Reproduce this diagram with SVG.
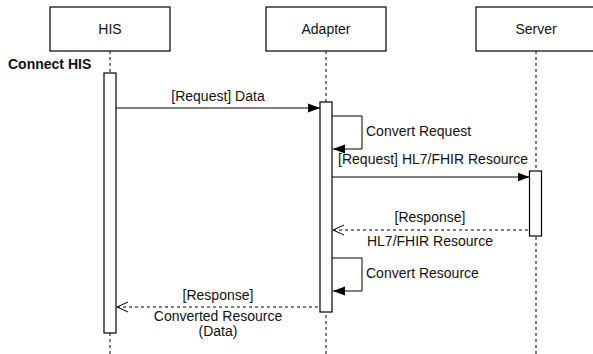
<svg xmlns="http://www.w3.org/2000/svg" width="593" height="354" viewBox="0 0 593 354">
  <defs>
    <marker id="solid" markerWidth="13" markerHeight="10" refX="12" refY="5" orient="auto" markerUnits="userSpaceOnUse">
      <path d="M0,0.5 L12,5 L0,9.5 Z" fill="#000"/>
    </marker>
    <marker id="open" markerWidth="14" markerHeight="12" refX="1" refY="6" orient="auto" markerUnits="userSpaceOnUse">
      <path d="M12,1 L1,6 L12,11" fill="none" stroke="#000" stroke-width="1"/>
    </marker>
  </defs>
  <style>
    text { font-family: "Liberation Sans", Arial, Helvetica, sans-serif; font-size: 14px; fill: #111; }
    .mid { text-anchor: middle; }
    .head { fill: #fff; stroke: #000; stroke-width: 1.2; }
    .life { stroke: #000; stroke-width: 1; stroke-dasharray: 3 3; fill: none; }
    .act { fill: #fff; stroke: #000; stroke-width: 1.2; }
    .msg { stroke: #000; stroke-width: 1; fill: none; }
    .ret { stroke: #000; stroke-width: 1; fill: none; stroke-dasharray: 3 3; }
  </style>

  <rect width="593" height="354" fill="#fff"/>

  <!-- lifelines -->
  <g id="his">
    <line class="life" x1="110" y1="51" x2="110" y2="354"/>
    <rect class="head" x="50" y="7" width="120" height="44"/>
    <text class="mid" x="110" y="34">HIS</text>
    <rect class="act" x="104" y="73" width="12" height="260"/>
  </g>
  <g id="adapter">
    <line class="life" x1="326" y1="51" x2="326" y2="354"/>
    <rect class="head" x="266" y="7" width="120" height="44"/>
    <text class="mid" x="326" y="34">Adapter</text>
    <rect class="act" x="320" y="102" width="12" height="210"/>
  </g>
  <g id="server">
    <line class="life" x1="536" y1="51" x2="536" y2="354"/>
    <rect class="head" x="476" y="7" width="120" height="44"/>
    <text class="mid" x="536" y="34">Server</text>
    <rect class="act" x="529.5" y="171" width="12" height="65"/>
  </g>

  <g id="frame-label">
    <text x="8" y="69" font-weight="bold">Connect HIS</text>
  </g>

  <!-- messages -->
  <g id="connectors">
    <line class="msg" x1="116" y1="108" x2="320" y2="108" marker-end="url(#solid)"/>
    <path class="msg" d="M332,116 H362 V149 H333" marker-end="url(#solid)"/>
    <line class="msg" x1="332" y1="177" x2="529.5" y2="177" marker-end="url(#solid)"/>
    <line class="ret" x1="333" y1="230" x2="529.5" y2="230" marker-start="url(#open)"/>
    <path class="msg" d="M332,258 H362 V291 H333" marker-end="url(#solid)"/>
    <line class="ret" x1="117" y1="307" x2="320" y2="307" marker-start="url(#open)"/>
  </g>

  <g id="labels">
    <text class="mid" x="218" y="101">[Request] Data</text>
    <text x="366" y="136">Convert Request</text>
    <text class="mid" x="433" y="164">[Request] HL7/FHIR Resource</text>
    <text class="mid" x="430" y="222">[Response]</text>
    <text class="mid" x="430" y="246">HL7/FHIR Resource</text>
    <text x="366" y="278">Convert Resource</text>
    <text class="mid" x="218" y="300">[Response]</text>
    <text class="mid" x="218" y="321">Converted Resource</text>
    <text class="mid" x="218" y="336">(Data)</text>
  </g>
</svg>
